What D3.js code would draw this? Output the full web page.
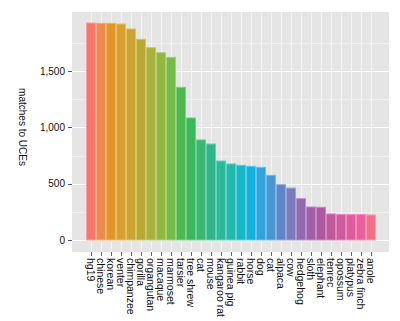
<!DOCTYPE html>
<html>
<head>
<meta charset="utf-8">
<script src="https://cdn.jsdelivr.net/npm/d3@7"></script>
<style>
  html, body { margin: 0; padding: 0; background: #fff; }
  svg { display: block; font-family: "Liberation Sans", Arial, sans-serif; }
</style>
</head>
<body>
<svg id="chart" width="400" height="321"></svg>
<script>
// ---- data ----
const categories = ["hg19", "chinese", "korean", "venter", "chimpanzee", "gorilla", "organgutan",
  "macaque", "marmoset", "tarsier", "tree shrew", "cat", "mouse", "kangaroo rat", "guinea pig",
  "rabbit", "horse", "dog", "cat", "alpaca", "cow", "hedgehog", "sloth", "elephant", "tenrec",
  "opossum", "platypus", "zebra finch", "anole"];
const matches = [1926, 1923, 1923, 1917, 1873, 1781, 1707, 1663, 1621, 1355, 1083, 888, 852,
  701, 675, 663, 654, 645, 574, 491, 461, 367, 293, 290, 231, 225, 225, 225, 222];
const yTicks = [0, 500, 1000, 1500];
const yMinorTicks = [250, 750, 1250, 1750];
const yTitle = "matches to UCEs";

// ---- style: fill palette (one per bar, in order) ----
const palette = ["#F8766D", "#EF894C", "#E39627", "#D9A02E", "#CBA530", "#BBA832", "#A8B13A",
  "#93B63E", "#75BB47", "#4DBA50", "#3AB85A", "#38B870", "#30B58A", "#2ABA9A", "#22B8AE",
  "#18B7C8", "#16B0DF", "#30A4DC", "#4896D4", "#5C86C8", "#7A7ABC", "#9268B0", "#A25EA8",
  "#AE58A0", "#C0589C", "#D05A9E", "#E05A9E", "#EC5E9C", "#F07088"];

// ---- layout ----
const svg = d3.select("#chart");
const panel = { left: 72, right: 389, top: 12, bottom: 252 };
const keys = categories.map((c, i) => i);

const x = d3.scaleBand().domain(keys).range([86, 376]).padding(0);
const y = d3.scaleLinear().domain([0, 1500]).range([240, 71]);
const color = d3.scaleOrdinal().domain(keys).range(palette);

// panel background
svg.append("rect")
  .attr("x", panel.left).attr("y", panel.top)
  .attr("width", panel.right - panel.left).attr("height", panel.bottom - panel.top)
  .attr("fill", "#e5e5e5");

// minor gridlines
svg.append("g").selectAll("line").data(yMinorTicks).join("line")
  .attr("x1", panel.left).attr("x2", panel.right)
  .attr("y1", d => Math.round(y(d)) + 0.5).attr("y2", d => Math.round(y(d)) + 0.5)
  .attr("stroke", "#f0f0f0").attr("stroke-width", 1);

// major gridlines
svg.append("g").selectAll("line").data(yTicks).join("line")
  .attr("x1", panel.left).attr("x2", panel.right)
  .attr("y1", d => Math.round(y(d)) + 0.5).attr("y2", d => Math.round(y(d)) + 0.5)
  .attr("stroke", "#ffffff").attr("stroke-width", 1);

// vertical gridlines at categories
svg.append("g").selectAll("line").data(keys).join("line")
  .attr("x1", d => x(d) + x.bandwidth() / 2 + 0.5).attr("x2", d => x(d) + x.bandwidth() / 2 + 0.5)
  .attr("y1", panel.top).attr("y2", panel.bottom)
  .attr("stroke", "#f4f4f4").attr("stroke-width", 1);

// bars
svg.append("g").selectAll("rect").data(keys).join("rect")
  .attr("x", d => x(d) + 0.5)
  .attr("width", x.bandwidth() - 1)
  .attr("y", d => y(matches[d]))
  .attr("height", d => y(0) - y(matches[d]))
  .attr("fill", d => color(d))
  .attr("stroke", d => d3.interpolateRgb(color(d), "#ffffff")(0.3))
  .attr("stroke-width", 1);

// y axis ticks + labels
const fmt = d3.format(",");
const yAxisG = svg.append("g");
yAxisG.selectAll("line").data(yTicks).join("line")
  .attr("x1", 68).attr("x2", panel.left)
  .attr("y1", d => Math.round(y(d)) + 0.5).attr("y2", d => Math.round(y(d)) + 0.5)
  .attr("stroke", "#555").attr("stroke-width", 1);
yAxisG.selectAll("text").data(yTicks).join("text")
  .attr("x", 65).attr("y", d => y(d)).attr("dy", "0.35em")
  .attr("text-anchor", "end")
  .attr("font-size", "10px").attr("fill", "#111")
  .text(d => fmt(d));

// x axis ticks + labels
const xAxisG = svg.append("g");
xAxisG.selectAll("line").data(keys).join("line")
  .attr("x1", d => x(d) + x.bandwidth() / 2 + 0.5).attr("x2", d => x(d) + x.bandwidth() / 2 + 0.5)
  .attr("y1", panel.bottom).attr("y2", panel.bottom + 4)
  .attr("stroke", "#666").attr("stroke-width", 1);
xAxisG.selectAll("text").data(keys).join("text")
  .attr("transform", d => `translate(${x(d) + x.bandwidth() / 2},${panel.bottom + 6}) rotate(90)`)
  .attr("dy", "0.35em")
  .attr("text-anchor", "start")
  .attr("font-size", "10.5px").attr("fill", "#111")
  .text(d => categories[d]);

// y title
svg.append("text")
  .attr("transform", `translate(22,127) rotate(90)`)
  .attr("dy", "0.35em")
  .attr("text-anchor", "middle")
  .attr("font-size", "10px").attr("fill", "#111")
  .text(yTitle);
</script>
</body>
</html>
